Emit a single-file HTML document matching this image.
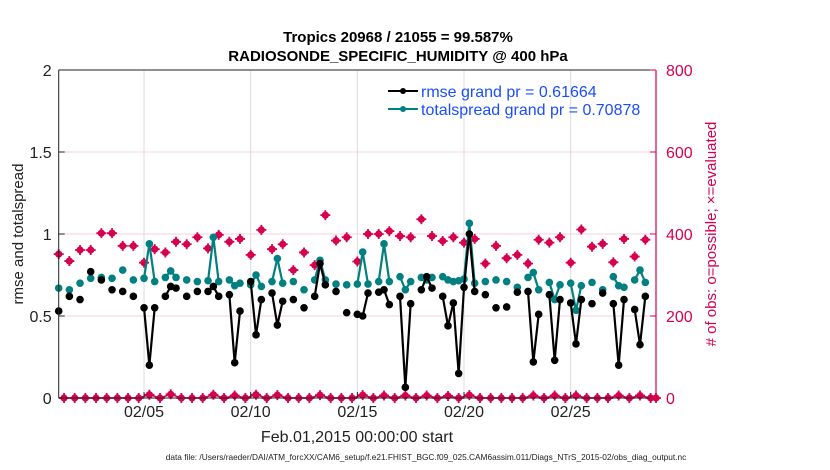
<!DOCTYPE html>
<html><head><meta charset="utf-8"><style>
body{margin:0;background:#fff;}
svg{display:block;font-family:"Liberation Sans",sans-serif;}
</style></head><body>
<svg id="chart" width="830" height="470" viewBox="0 0 830 470">
<g id="grid"></g>
<g id="series"></g>
<g id="axes"></g>
<text x="398" y="42" text-anchor="middle" font-size="15" font-weight="bold">Tropics 20968 / 21055 = 99.587%</text>
<text x="398" y="61" text-anchor="middle" font-size="15" font-weight="bold">RADIOSONDE_SPECIFIC_HUMIDITY @ 400 hPa</text>
<text transform="translate(23,234) rotate(-90)" text-anchor="middle" font-size="15" fill="#222">rmse and totalspread</text>
<text transform="translate(716,234) rotate(-90)" text-anchor="middle" font-size="15" fill="#d6004f"># of obs: o=possible; ×=evaluated</text>
<text x="357" y="442" text-anchor="middle" font-size="16" fill="#222">Feb.01,2015 00:00:00 start</text>
<text x="426" y="460" text-anchor="middle" font-size="8.3" fill="#222">data file: /Users/raeder/DAI/ATM_forcXX/CAM6_setup/f.e21.FHIST_BGC.f09_025.CAM6assim.011/Diags_NTrS_2015-02/obs_diag_output.nc</text>
<g>
<g>
<line x1="388" y1="91" x2="418" y2="91" stroke="#000" stroke-width="2"/><circle cx="403" cy="91" r="3" fill="#000"/>
<text x="421" y="97" font-size="16" fill="#1a4dff">rmse grand pr = 0.61664</text></g>
<g>
<line x1="388" y1="109" x2="418" y2="109" stroke="#008080" stroke-width="2"/><circle cx="403" cy="109" r="3" fill="#008080"/>
<text x="421" y="115" font-size="16" fill="#1a4dff">totalspread grand pr = 0.70878</text></g>
</g>
</svg>
<script>
const slots=[0,2,4,6,8,10,12,14,16,17,18,20,21,22,24,26,28,29,30,32,33,34,36,37,38,40,41,42,44,46,48,49,50,52,54,56,57,58,60,61,62,64,65,66,68,69,70,72,73,74,75,76,77,78,80,82,84,86,88,89,90,92,93,94,96,97,98,100,102,104,105,106,108,109,110];
const rmse=[.53,.62,.60,.77,.72,.66,.65,.62,.55,.20,.55,.62,.68,.67,.62,.65,.65,.68,.62,.63,.215,.53,.71,.385,.60,.64,.445,.59,.60,.55,.62,.82,.69,.65,.52,.51,.50,.64,.645,.66,.57,.62,.065,.575,.66,.74,.67,.62,.44,.58,.15,.675,1.0,.65,.63,.55,.555,.645,.65,.22,.51,.63,.23,.60,.58,.33,.60,.575,.64,.575,.20,.60,.54,.325,.62];
const spread=[.67,.66,.70,.73,.735,.73,.78,.72,.73,.94,.71,.735,.775,.735,.72,.71,.715,.98,.71,.72,.685,.70,.69,.75,.68,.71,.85,.70,.71,.66,.72,.84,.72,.695,.69,.695,.89,.695,.71,.94,.71,.74,.66,.71,.735,.72,.735,.74,.72,.71,.715,.725,1.065,.70,.71,.72,.71,.675,.735,.765,.66,.705,.60,.69,.70,.535,.685,.705,.66,.74,.685,.675,.72,.78,.705];
const countSlots=[0,2,4,6,8,10,12,14,16,18,20,22,24,26,28,30,32,34,36,38,40,42,44,46,48,50,52,54,56,58,60,62,64,66,68,70,72,74,76,78,80,82,84,86,88,90,92,94,96,98,100,102,104,106,108,110];
const counts=[351,334,361,361,402,402,371,371,330,363,355,381,375,392,365,398,381,388,349,410,363,375,312,355,324,446,384,392,333,400,400,407,395,392,436,395,383,392,379,388,328,371,341,349,328,386,379,392,330,411,369,376,331,388,345,386];
const lowSlots=[1,3,5,7,9,11,13,15,17,19,21,23,25,27,29,31,33,35,37,39,41,43,45,47,49,51,53,55,57,59,61,63,65,67,69,71,73,75,77,79,81,83,85,87,89,91,93,95,97,99,101,103,105,107,109,111,112];
const lowCounts=[0,0,0,0,0,0,0,0,8,0,9,0,0,0,8,0,6,0,8,0,7,0,0,0,7,0,0,0,7,0,6,0,6,0,6,0,5,0,7,0,0,0,0,0,6,0,6,0,6,0,0,0,6,0,6,0,0];
const leftTicks=[0,0.5,1,1.5,2];
const rightTicks=[0,200,400,600,800];
const dateTicks=[5,10,15,20,25];

const X0=58.7,X1=656,Y0=398,Y1=70,NS=112;
const xs=s=>X0+s*(X1-X0)/NS;
const xd=d=>xs((d-1)*4);
const yl=v=>Y0-v*(Y0-Y1)/2;
const yr=v=>Y0-v*(Y0-Y1)/800;
const NS_="http://www.w3.org/2000/svg";
function mk(tag,attrs,parent){const e=document.createElementNS(NS_,tag);for(const k in attrs)e.setAttribute(k,attrs[k]);parent.appendChild(e);return e;}
const grid=document.getElementById('grid'),ser=document.getElementById('series'),ax=document.getElementById('axes');
const PINK="#d6004f";
dateTicks.forEach(d=>{const l=mk('line',{x1:xd(d),x2:xd(d),y1:Y1,y2:Y0,stroke:'#dcdcdc','stroke-width':1},grid);

});
rightTicks.forEach(v=>{if(v===0||v===800)return;const l=mk('line',{x1:X0,x2:X1,y1:yr(v),y2:yr(v),stroke:'#f8cfe0','stroke-width':1},grid);

});
const lowPts=lowSlots.map((s,i)=>xs(s)+','+yr(lowCounts[i])).join(' ');
const lowLine=mk('polyline',{points:X0+','+Y0+' '+lowPts,fill:'none',stroke:PINK,'stroke-width':1.5},ser);


function pinkMarker(x,y,name){const g=mk('g',{},ser);


mk('circle',{cx:x,cy:y,r:3.6,fill:PINK},g);
mk('path',{d:`M${x-5} ${y}H${x+5}M${x} ${y-5}V${y+5}`,stroke:PINK,'stroke-width':1.8},g);}
counts.forEach((c,i)=>pinkMarker(xs(countSlots[i]),yr(c),'count-marker'));
lowCounts.forEach((c,i)=>pinkMarker(xs(lowSlots[i]),yr(c),'count-marker-low'));
function drawSeries(vals,color,name){
 for(let i=1;i<slots.length;i++){if(slots[i]-slots[i-1]===1){const l=mk('line',{x1:xs(slots[i-1]),y1:yl(vals[i-1]),x2:xs(slots[i]),y2:yl(vals[i]),stroke:color,'stroke-width':2.2},ser);
 
 }}
 vals.forEach((v,i)=>{const c=mk('circle',{cx:xs(slots[i]),cy:yl(v),r:3.8,fill:color},ser);
 
 });
}
drawSeries(spread,'#008080','totalspread');
drawSeries(rmse,'#000','rmse');
mk('line',{x1:X0,x2:X1,y1:Y1,y2:Y1,stroke:'#222','stroke-width':1},ax);
mk('line',{x1:X0,x2:X0,y1:Y1,y2:Y0,stroke:'#222','stroke-width':1},ax);
mk('line',{x1:X0,x2:X1,y1:Y0,y2:Y0,stroke:'#222','stroke-width':1},ax);
mk('line',{x1:X1,x2:X1,y1:Y1,y2:Y0,stroke:PINK,'stroke-width':1.2},ax);
leftTicks.forEach(v=>{mk('line',{x1:X0,x2:X0+6,y1:yl(v),y2:yl(v),stroke:'#222'},ax);
const t=mk('text',{x:X0-7,y:yl(v)+6,'text-anchor':'end','font-size':16,fill:'#222'},ax);t.textContent=v;

});
rightTicks.forEach(v=>{mk('line',{x1:X1-6,x2:X1,y1:yr(v),y2:yr(v),stroke:PINK},ax);
const t=mk('text',{x:X1+10,y:yr(v)+6,'font-size':16,fill:PINK},ax);t.textContent=v;

});
dateTicks.forEach(d=>{mk('line',{x1:xd(d),x2:xd(d),y1:Y0,y2:Y0-6,stroke:'#222'},ax);
const t=mk('text',{x:xd(d),y:417,'text-anchor':'middle','font-size':16,fill:'#222'},ax);t.textContent='02/'+String(d).padStart(2,'0');

});
</script>
</body></html>
